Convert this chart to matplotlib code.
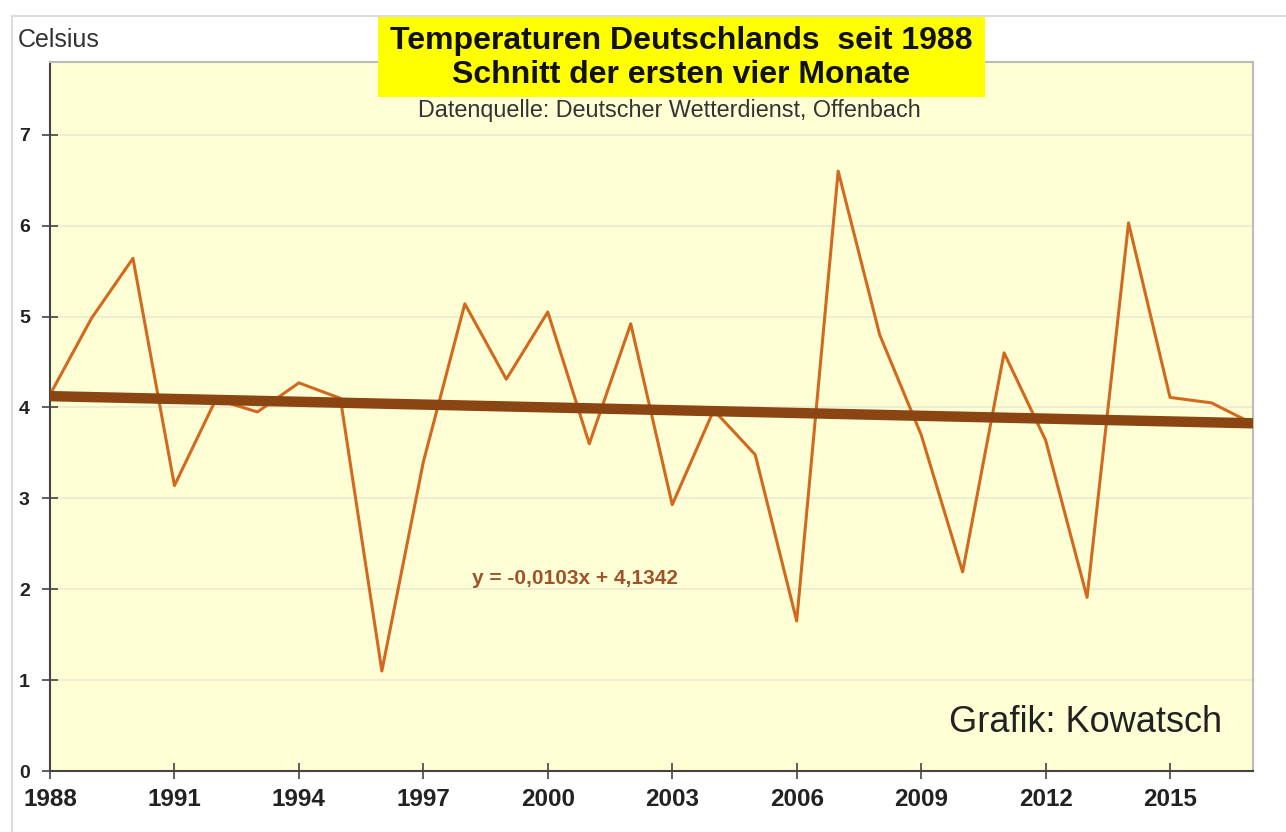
import matplotlib
matplotlib.use("Agg")
import matplotlib.pyplot as plt
from matplotlib.patches import Rectangle
import numpy as np

years = list(range(1988, 2018))
temps = [4.14, 4.98, 5.64, 3.14, 4.09, 3.95, 4.27, 4.10, 1.10, 3.40,
         5.14, 4.31, 5.05, 3.60, 4.92, 2.93, 3.97, 3.48, 1.65, 6.60,
         4.80, 3.70, 2.19, 4.60, 3.64, 1.91, 6.03, 4.11, 4.05, 3.82]
slope = -0.0103
intercept = 4.1342
xticks = [1988, 1991, 1994, 1997, 2000, 2003, 2006, 2009, 2012, 2015]
yticks = [0, 1, 2, 3, 4, 5, 6, 7]

plt.rcParams['font.family'] = ['Liberation Sans', 'DejaVu Sans']

fig = plt.figure(figsize=(12.86, 8.32), dpi=100)
ax = fig.add_axes([50/1286, 1-771/832, (1253-50)/1286, (771-62)/832])
ax.set_facecolor('#FFFFD6')

ax.plot(years, temps, color='#D2691E', lw=2.2, zorder=3)
idx = np.arange(1, len(years) + 1)
trend = slope * idx + intercept
ax.plot(years, trend, color='#8B4513', lw=7.5, zorder=4, solid_capstyle='butt')

ax.set_xlim(1988, 2017)
ax.set_ylim(0, 7.8)
ax.set_xticks(xticks)
ax.set_yticks(yticks)
ax.set_xticklabels([str(x) for x in xticks], fontsize=17.5, fontweight='bold', color='#222222')
ax.set_yticklabels([str(y) for y in yticks], fontsize=14, fontweight='bold', color='#222222')
ax.tick_params(direction='inout', length=11, width=1.2, color='#444444')
ax.tick_params(axis='x', pad=7)
ax.tick_params(axis='y', pad=9)
ax.grid(axis='y', color='#EAEAD0', lw=1.2)
ax.set_axisbelow(True)
for s in ['top', 'right']:
    ax.spines[s].set_color('#BBBBBB')
    ax.spines[s].set_linewidth(1.5)
for s in ['left', 'bottom']:
    ax.spines[s].set_color('#444444')
    ax.spines[s].set_linewidth(1.5)

# figure frame
fig.patches.append(Rectangle((12/1286, -0.01), 1.0, 1 - 16/832 + 0.01,
                             transform=fig.transFigure, fill=False,
                             edgecolor='#DDDDDD', lw=1.5, zorder=0))

fig.text(18/1286, 1-40/832, 'Celsius', fontsize=18, color='#333333', va='center', ha='left')

fig.patches.append(Rectangle((378/1286, 1-97/832), (985-378)/1286, (97-17)/832,
                             transform=fig.transFigure, facecolor='#FFFF00',
                             edgecolor='none', zorder=5))
fig.text(681/1286, 1-58/832, 'Temperaturen Deutschlands  seit 1988\nSchnitt der ersten vier Monate',
         fontsize=23, fontweight='bold', ha='center', va='center', linespacing=1.17,
         color='#111111', zorder=6)
fig.text(669/1286, 1-111/832, 'Datenquelle: Deutscher Wetterdienst, Offenbach',
         fontsize=16.8, ha='center', va='center', color='#333333', zorder=6)

fig.text(575/1286, 1-578/832, 'y = -0,0103x + 4,1342', fontsize=15, fontweight='bold',
         color='#A0522D', ha='center', va='center')
fig.text(1086/1286, 1-722/832, 'Grafik: Kowatsch', fontsize=26, color='#222222',
         ha='center', va='center')

fig.savefig('out.png', dpi=100)
